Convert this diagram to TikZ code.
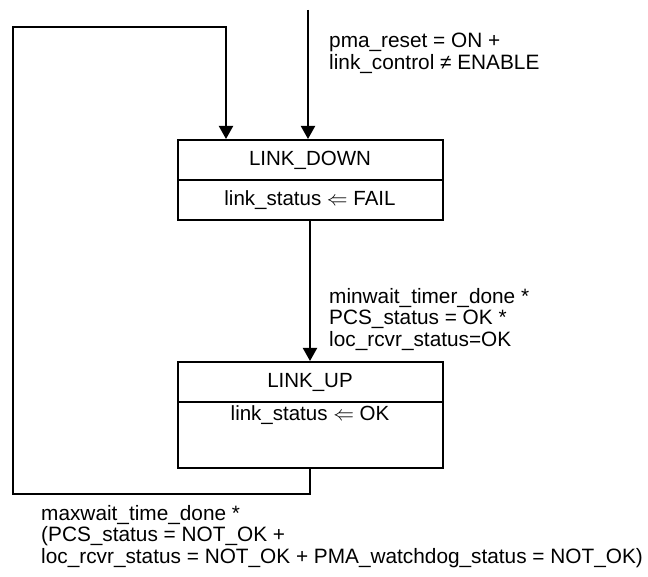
\documentclass[tikz,border=0pt]{standalone}
\usepackage{fontspec}
\setmainfont{Liberation Sans}
\usetikzlibrary{arrows.meta}
\tikzset{
  ln/.style={line width=2pt},
  arr/.style={ln,-{Triangle[length=13pt,width=14pt]}},
  hdr/.style={draw,ln,minimum width=265pt,minimum height=40pt,inner sep=0pt,font=\fontsize{20.5}{21.5}\selectfont},
  lbl/.style={anchor=north west,inner sep=0pt,align=left,font=\fontsize{20.8}{21.5}\selectfont}
}
\begin{document}
\begin{tikzpicture}[x=1pt,y=-1pt]
\useasboundingbox (0,0) rectangle (648,577);
% LINK_DOWN
\node[hdr] (ldh) at (310,160) {LINK\_DOWN};
\node[hdr] (ldb) at (310,200) {link\_status $\Leftarrow$ FAIL};
% LINK_UP
\node[hdr] (luh) at (310,382) {LINK\_UP};
\node[hdr,text height=18pt,text depth=48pt,minimum height=0pt] (lub) at (310,435) {link\_status $\Leftarrow$ OK};
% coordinates
\coordinate (entry) at (308,10);
\coordinate (c1) at (13,27);
\coordinate (c2) at (13,494);
\coordinate (c3) at (226,27);
% connectors
\draw[arr] (entry) -- (entry |- ldh.north);
\draw[arr] (ldb.south) -- (luh.north);
\draw[arr] (lub.south) -- (lub.south |- c2) -- (c2) -- (c1) -- (c3) -- (c3 |- ldh.north);
% labels
\node[lbl] (l1) at (329,33) {pma\_reset = ON +\\link\_control ≠ ENABLE};
\node[lbl] (l2) at (329,288) {minwait\_timer\_done *\\PCS\_status = OK *\\loc\_rcvr\_status=OK};
\node[lbl] (l3) at (41,505) {maxwait\_time\_done *\\(PCS\_status = NOT\_OK +\\loc\_rcvr\_status = NOT\_OK + PMA\_watchdog\_status = NOT\_OK)};
\end{tikzpicture}
\end{document}
